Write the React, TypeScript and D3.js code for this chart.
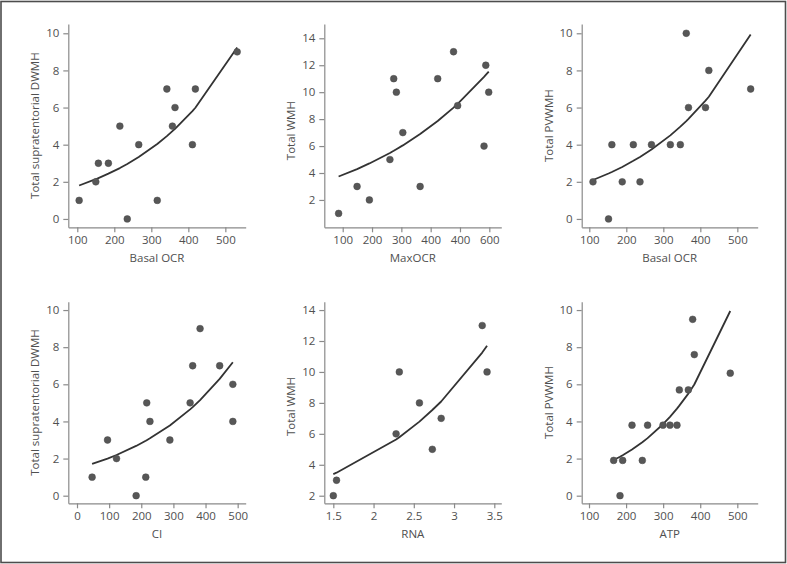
import { useEffect, useRef } from 'react';
import * as d3 from 'd3';

// Panel 1: Basal OCR vs total supratentorial DWMH
const P1_X = [105, 150, 157, 184, 215, 235, 266, 316, 342, 357, 364, 411, 419, 532];
const P1_Y = [1, 2, 3, 3, 5, 0, 4, 1, 7, 5, 6, 4, 7, 9];
const P1_FIT = [1.8, 2.14, 2.2, 2.44, 2.74, 2.96, 3.34, 4.04, 4.46, 4.73, 4.85, 5.81, 5.99, 9.23];

// Panel 2: MaxOCR vs total WMH
const P2_X = [86, 149, 191, 261, 274, 283, 305, 364, 424, 478, 492, 582, 588, 598];
const P2_Y = [1, 3, 2, 5, 11, 10, 7, 3, 11, 13, 9, 6, 12, 10];
const P2_FIT = [3.74, 4.29, 4.71, 5.49, 5.65, 5.77, 6.05, 6.89, 7.86, 8.85, 9.13, 11.13, 11.28, 11.53];

// Panel 3: Basal OCR vs total PVWMH
const P3_X = [110, 152, 161, 189, 219, 237, 268, 319, 346, 362, 368, 414, 423, 536];
const P3_Y = [2, 0, 4, 2, 4, 2, 4, 4, 4, 10, 6, 6, 8, 7];
const P3_FIT = [2.1, 2.45, 2.53, 2.8, 3.13, 3.34, 3.74, 4.5, 4.97, 5.27, 5.39, 6.37, 6.58, 9.94];

// Panel 4: CI vs total supratentorial DWMH
const P4_X = [47, 95, 123, 184, 214, 217, 227, 289, 352, 360, 383, 444, 485, 485];
const P4_Y = [1, 3, 2, 0, 1, 5, 4, 3, 5, 7, 9, 7, 6, 4];
const P4_FIT = [1.71, 2.0, 2.19, 2.68, 2.96, 2.99, 3.09, 3.78, 4.65, 4.77, 5.15, 6.29, 7.19, 7.19];

// Panel 5: RNA vs total WMH
const P5_X = [1.5, 1.54, 2.28, 2.32, 2.57, 2.73, 2.84, 3.35, 3.41];
const P5_Y = [2, 3, 6, 10, 8, 5, 7, 13, 10];
const P5_FIT = [3.4, 3.49, 5.63, 5.78, 6.79, 7.54, 8.09, 11.25, 11.7];

// Panel 6: ATP vs total PVWMH
const P6_X = [166.5, 183.6, 190.8, 216, 243.8, 258, 299.6, 318.4, 337.3, 343.6, 367.9, 379.6, 384, 481];
const P6_Y = [1.9, 0, 1.9, 3.8, 1.9, 3.8, 3.8, 3.8, 3.8, 5.7, 5.7, 9.5, 7.6, 6.6];
const P6_FIT = [1.92, 2.1, 2.18, 2.49, 2.88, 3.1, 3.85, 4.25, 4.69, 4.85, 5.5, 5.85, 5.99, 9.95];

const TICKS_OCR = [100, 200, 300, 400, 500];
const TICKS_MAXOCR = [100, 200, 300, 400, 500, 600];
const LABELS_MAXOCR = ['100', '200', '300', '400', '400', '600']; // as printed in the source
const TICKS_CI = [0, 100, 200, 300, 400, 500];
const TICKS_RNA = [1.5, 2, 2.5, 3, 3.5];
const TICKS_Y10 = [0, 2, 4, 6, 8, 10];
const TICKS_Y14 = [2, 4, 6, 8, 10, 12, 14];

interface Panel {
  xs: number[];
  ys: number[];
  fit: number[];
  xDomain: [number, number];
  yDomain: [number, number];
  xTicks: number[];
  xLabels?: string[];
  yTicks: number[];
  xTitle: string;
  yTitle: string;
  col: number;
  row: number;
  yTitleShift?: number;
}

const PANELS: Panel[] = [
  { xs: P1_X, ys: P1_Y, fit: P1_FIT, xDomain: [75.7, 555], yDomain: [-0.45, 10.5], xTicks: TICKS_OCR, yTicks: TICKS_Y10, xTitle: 'Basal OCR', yTitle: 'Total supratentorial DWMH', col: 0, row: 0 },
  { xs: P2_X, ys: P2_Y, fit: P2_FIT, xDomain: [37.2, 640.9], yDomain: [-0.03, 15.06], xTicks: TICKS_MAXOCR, xLabels: LABELS_MAXOCR, yTicks: TICKS_Y14, xTitle: 'MaxOCR', yTitle: 'Total WMH', col: 1, row: 0, yTitleShift: 5 },
  { xs: P3_X, ys: P3_Y, fit: P3_FIT, xDomain: [79.5, 555], yDomain: [-0.45, 10.5], xTicks: TICKS_OCR, yTicks: TICKS_Y10, xTitle: 'Basal OCR', yTitle: 'Total PVWMH', col: 2, row: 0 },
  { xs: P4_X, ys: P4_Y, fit: P4_FIT, xDomain: [-27.1, 525], yDomain: [-0.41, 10.45], xTicks: TICKS_CI, yTicks: TICKS_Y10, xTitle: 'CI', yTitle: 'Total supratentorial DWMH', col: 0, row: 1 },
  { xs: P5_X, ys: P5_Y, fit: P5_FIT, xDomain: [1.388, 3.587], yDomain: [1.51, 14.54], xTicks: TICKS_RNA, yTicks: TICKS_Y14, xTitle: 'RNA', yTitle: 'Total WMH', col: 1, row: 1, yTitleShift: 4 },
  { xs: P6_X, ys: P6_Y, fit: P6_FIT, xDomain: [80.3, 555], yDomain: [-0.41, 10.45], xTicks: TICKS_OCR, yTicks: TICKS_Y10, xTitle: 'ATP', yTitle: 'Total PVWMH', col: 2, row: 1 },
];

const W = 787;
const H = 564;
const COL_X: [number, number][] = [[68.3, 245.7], [324.3, 501.3], [581.7, 757.7]];
const ROW_Y: [number, number][] = [[227.3, 24], [503.3, 301.7]];

const FONT = "'Open Sans', 'DejaVu Sans', sans-serif";
const TEXT = '#505050';
const AXIS = '#8a8a8a';

export default function App() {
  const svgRef = useRef<SVGSVGElement>(null);

  useEffect(() => {
    const el = svgRef.current;
    if (!el) return;
    const svg = d3.select(el);
    svg.selectAll('*').remove();

    svg.append('rect').attr('width', W).attr('height', H).attr('fill', '#fff');
    svg.append('rect')
      .attr('x', 1).attr('y', 1.5).attr('width', 784.5).attr('height', 561)
      .attr('fill', 'none').attr('stroke', '#4d4d4d').attr('stroke-width', 1.6);

    PANELS.forEach((p) => {
      const x = d3.scaleLinear().domain(p.xDomain).range(COL_X[p.col]);
      const y = d3.scaleLinear().domain(p.yDomain).range(ROW_Y[p.row]);
      const g = svg.append('g');
      const x0 = COL_X[p.col][0];
      const yb = ROW_Y[p.row][0];

      const xa = d3.axisBottom(x).tickValues(p.xTicks).tickSize(5).tickSizeOuter(0).tickPadding(4)
        .tickFormat((d, i) => (p.xLabels ? p.xLabels[i] : String(d)));
      const ya = d3.axisLeft(y).tickValues(p.yTicks).tickSize(5).tickSizeOuter(0).tickPadding(4)
        .tickFormat((d) => String(d));

      g.append('g').attr('transform', `translate(0,${yb})`).attr('color', TEXT).call(xa);
      g.append('g').attr('transform', `translate(${x0},0)`).attr('color', TEXT).call(ya);
      g.selectAll('.domain').attr('stroke', AXIS).attr('stroke-width', 1.2);
      g.selectAll('.tick line').attr('stroke', AXIS).attr('stroke-width', 1.2);
      g.selectAll('.tick text').attr('fill', TEXT).attr('font-size', '11.5px').attr('font-family', FONT);

      // axis titles
      g.append('text')
        .attr('x', (COL_X[p.col][0] + COL_X[p.col][1]) / 2).attr('y', yb + 34.5)
        .attr('text-anchor', 'middle').attr('font-size', '11.5px').attr('font-family', FONT).attr('fill', TEXT)
        .text(p.xTitle);
      const cy = (ROW_Y[p.row][0] + ROW_Y[p.row][1]) / 2 + (p.yTitleShift || 0);
      g.append('text')
        .attr('transform', `translate(${x0 - 29},${cy}) rotate(-90)`)
        .attr('text-anchor', 'middle').attr('font-size', '11.5px').attr('font-family', FONT).attr('fill', TEXT)
        .text(p.yTitle);

      // fitted curve
      const line = d3.line<number>().x((_, i) => x(p.xs[i])).y((d) => y(d));
      g.append('path').attr('d', line(p.fit) || '')
        .attr('fill', 'none').attr('stroke', '#333').attr('stroke-width', 1.8).attr('stroke-linejoin', 'round');

      // points
      g.selectAll('circle.pt').data(p.ys).join('circle').attr('class', 'pt')
        .attr('cx', (_, i) => x(p.xs[i])).attr('cy', (d) => y(d)).attr('r', 3.4)
        .attr('fill', '#575757').attr('stroke', '#4a4a4a').attr('stroke-width', 0.5);
    });
  }, []);

  return (
    <div style={{ position: 'absolute', left: 0, top: 0 }}>
      <svg ref={svgRef} width={W} height={H} style={{ display: 'block' }} />
    </div>
  );
}
